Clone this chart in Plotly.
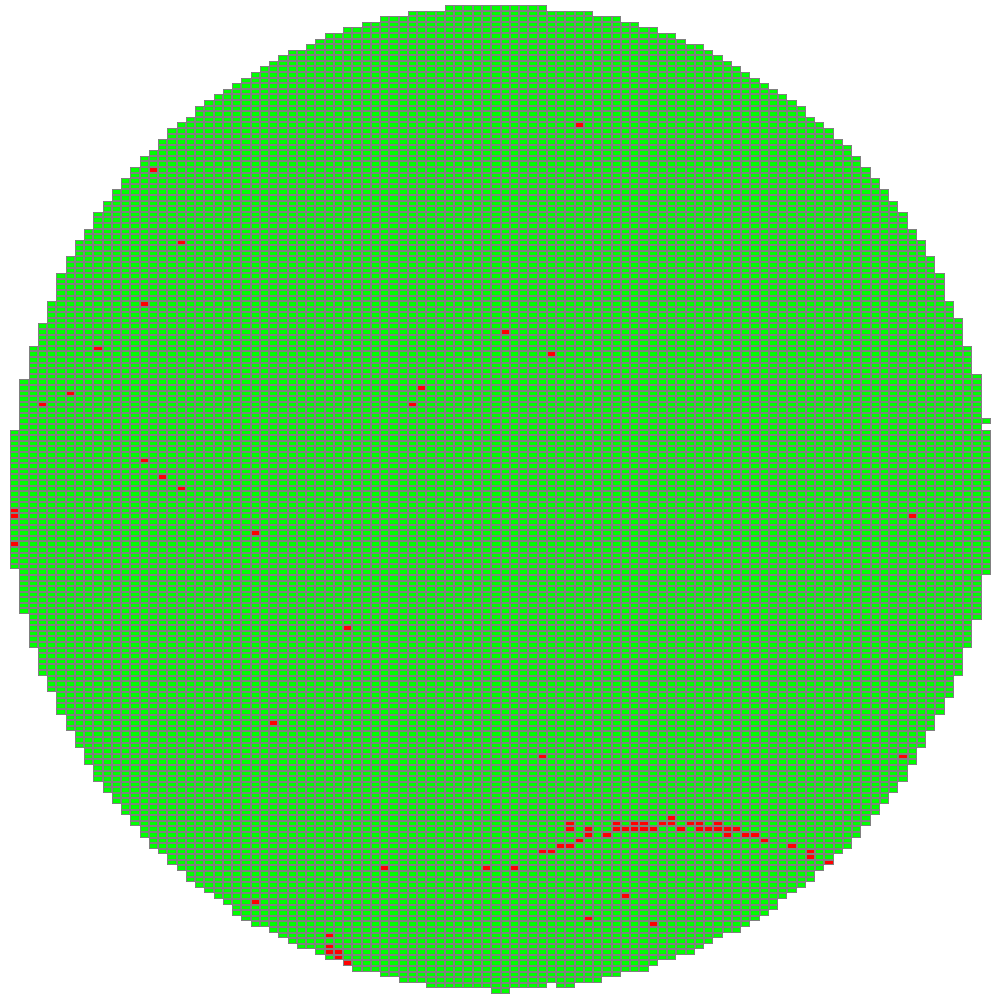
import plotly.graph_objects as go

# Wafer map: 177 rows x 106 columns of dies
n_rows = 177
n_cols = 106

# first die column present in each row (row 0 at top)
row_start = [
    47, 43, 40, 38, 36, 34, 33, 32, 30, 29,
    28, 27, 26, 25, 24, 23, 22, 21, 20, 20,
    19, 18, 17, 17, 16, 16, 15, 14, 14, 13,
    13, 12, 12, 11, 11, 10, 10, 9, 9, 9,
    8, 8, 7, 7, 7, 6, 6, 6, 5, 5,
    5, 5, 5, 4, 4, 4, 4, 3, 3, 3,
    3, 2, 2, 2, 2, 2, 2, 1, 1, 1,
    1, 1, 1, 1, 1, 1, 0, 0, 0, 0,
    0, 0, 0, 0, 0, 0, 0, 0, 0, 0,
    0, 0, 0, 0, 0, 0, 0, 0, 0, 0,
    0, 1, 1, 1, 1, 1, 1, 1, 1, 2,
    2, 2, 2, 2, 2, 3, 3, 3, 3, 3,
    4, 4, 4, 5, 5, 5, 5, 6, 6, 6,
    7, 7, 7, 8, 8, 8, 9, 9, 9, 10,
    10, 11, 11, 12, 12, 13, 13, 14, 14, 15,
    15, 16, 17, 17, 18, 19, 19, 20, 21, 22,
    23, 24, 24, 25, 26, 28, 29, 30, 31, 33,
    34, 36, 37, 40, 42, 45, 52,
]

# last die column present in each row
row_end = [
    57, 62, 65, 67, 69, 71, 72, 74, 75, 76,
    77, 78, 79, 80, 81, 82, 83, 84, 85, 85,
    86, 87, 88, 88, 89, 90, 90, 91, 91, 92,
    92, 93, 93, 94, 94, 95, 95, 96, 96, 96,
    97, 97, 98, 98, 98, 99, 99, 99, 100, 100,
    100, 100, 100, 101, 101, 101, 102, 102, 102, 102,
    102, 103, 103, 103, 103, 103, 104, 104, 104, 104,
    104, 104, 104, 104, 105, 104, 105, 105, 105, 105,
    105, 105, 105, 105, 105, 105, 105, 105, 105, 105,
    105, 105, 105, 105, 105, 105, 105, 105, 105, 105,
    105, 105, 104, 104, 104, 104, 104, 104, 104, 104,
    103, 103, 103, 103, 103, 102, 102, 102, 102, 102,
    101, 101, 101, 101, 100, 100, 100, 99, 99, 99,
    98, 98, 98, 97, 97, 97, 96, 96, 96, 95,
    95, 94, 94, 93, 93, 92, 92, 91, 91, 90,
    90, 89, 88, 88, 87, 86, 86, 85, 84, 83,
    82, 82, 81, 80, 79, 78, 76, 75, 74, 73,
    71, 69, 68, 65, 63, 60, 53,
]

# positions missing inside a row
hole_rows = [175]
hole_cols = [58]

# failing dies (red)
fail_rows = [21, 29, 42, 53, 58, 61, 62, 68, 69, 71, 71, 81, 84, 86, 90, 91, 91, 94, 96,
             111, 128, 134, 134, 145,
             146, 146, 146, 146, 146, 146, 146, 146, 146,
             147, 147, 147, 147, 147, 147, 147, 147, 147, 147, 147, 147, 147,
             148, 148, 148, 148, 148,
             149, 149, 150, 150, 150, 151, 151, 151, 152, 153,
             154, 154, 154, 159, 160, 163, 164, 166, 168, 169, 169, 170, 171]
fail_cols = [61, 15, 18, 14, 53, 9, 58, 44, 6, 3, 43, 14, 16, 18, 0, 97, 0, 26, 0,
             36, 28, 57, 96, 71,
             60, 65, 67, 68, 70, 71, 73, 74, 76,
             60, 62, 65, 66, 67, 68, 69, 72, 74, 75, 76, 77, 78,
             62, 64, 77, 79, 80,
             61, 81, 59, 60, 84, 57, 58, 86, 86, 88,
             40, 51, 54, 66, 26, 62, 69, 34, 34, 34, 35, 35, 36]

cols = list(range(n_cols))
rows = list(range(n_rows))
holes = set(zip(hole_rows, hole_cols))

frame = [[None] * n_cols for _ in rows]
status = [[None] * n_cols for _ in rows]
for r in rows:
    for c in range(row_start[r], row_end[r] + 1):
        if (r, c) in holes:
            continue
        frame[r][c] = 1
        status[r][c] = 0
for r, c in zip(fail_rows, fail_cols):
    status[r][c] = 1

fig = go.Figure()
fig.add_trace(go.Heatmap(
    z=frame, x=cols, y=rows,
    colorscale=[[0, "#808080"], [1, "#808080"]], zmin=0, zmax=1,
    showscale=False, hoverinfo="skip",
))
fig.add_trace(go.Heatmap(
    z=status, x=cols, y=rows,
    colorscale=[[0, "#00ff00"], [0.5, "#00ff00"], [0.5, "#ff0000"], [1, "#ff0000"]],
    zmin=0, zmax=1, xgap=2, ygap=2,
    showscale=False,
))

fig.update_layout(
    width=1000, height=1000,
    margin=dict(l=10, r=9, t=5, b=6, pad=0),
    paper_bgcolor="white", plot_bgcolor="white",
    xaxis=dict(range=[-0.5, n_cols - 0.5], visible=False, fixedrange=True),
    yaxis=dict(range=[n_rows - 0.5, -0.5], visible=False, fixedrange=True),
    showlegend=False,
)

fig.write_html("out.html")
